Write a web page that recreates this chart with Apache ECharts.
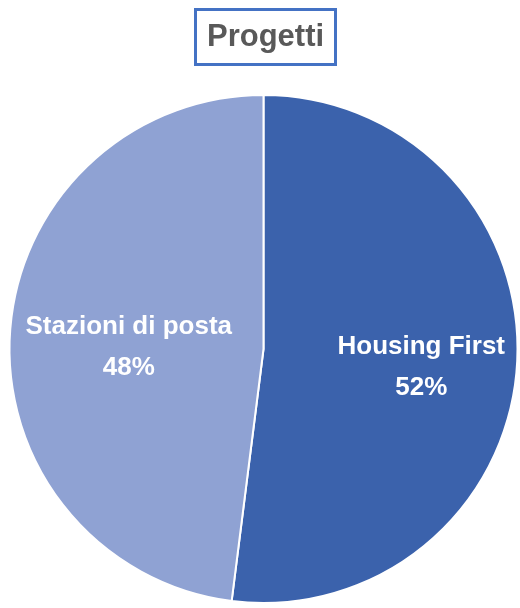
<!DOCTYPE html>
<html>
<head>
<meta charset="utf-8">
<script src="https://cdn.jsdelivr.net/npm/echarts@6/dist/echarts.min.js"></script>
<style>
html,body{margin:0;padding:0;background:#fff;}
#chart{width:520px;height:608px;}
</style>
</head>
<body>
<div id="chart"></div>
<script>
const titleText = "Progetti";
const categories = ["Housing First", "Stazioni di posta"];
const values = [52, 48];
const colors = ["#3B62AC", "#8FA2D3"];
const labelShift = [[28, 10], [-5, 6]];

const chart = echarts.init(document.getElementById('chart'), null, {renderer: 'canvas'});
chart.setOption({
  animation: false,
  backgroundColor: '#ffffff',
  title: {
    text: titleText,
    left: 195,
    top: 9,
    padding: [13, 12, 12, 12],
    borderColor: '#4472C4',
    borderWidth: 3,
    textStyle: {
      fontFamily: 'Liberation Sans',
      fontWeight: 'bold',
      fontSize: 31,
      color: '#595959'
    }
  },
  series: [{
    type: 'pie',
    center: [263.5, 349],
    radius: [0, 254],
    startAngle: 90,
    clockwise: true,
    silent: true,
    itemStyle: {borderColor: '#ffffff', borderWidth: 2},
    label: {
      show: true,
      position: 'inside',
      formatter: p => p.name + '\n' + p.value + '%',
      color: '#ffffff',
      fontFamily: 'Liberation Sans',
      fontWeight: 'bold',
      fontSize: 26,
      lineHeight: 41,
      align: 'center'
    },
    labelLine: {show: false},
    labelLayout: function (params) {
      const s = labelShift[params.dataIndex];
      return {dx: s[0], dy: s[1]};
    },
    data: categories.map((c, i) => ({name: c, value: values[i], itemStyle: {color: colors[i]}}))
  }]
});
</script>
</body>
</html>
